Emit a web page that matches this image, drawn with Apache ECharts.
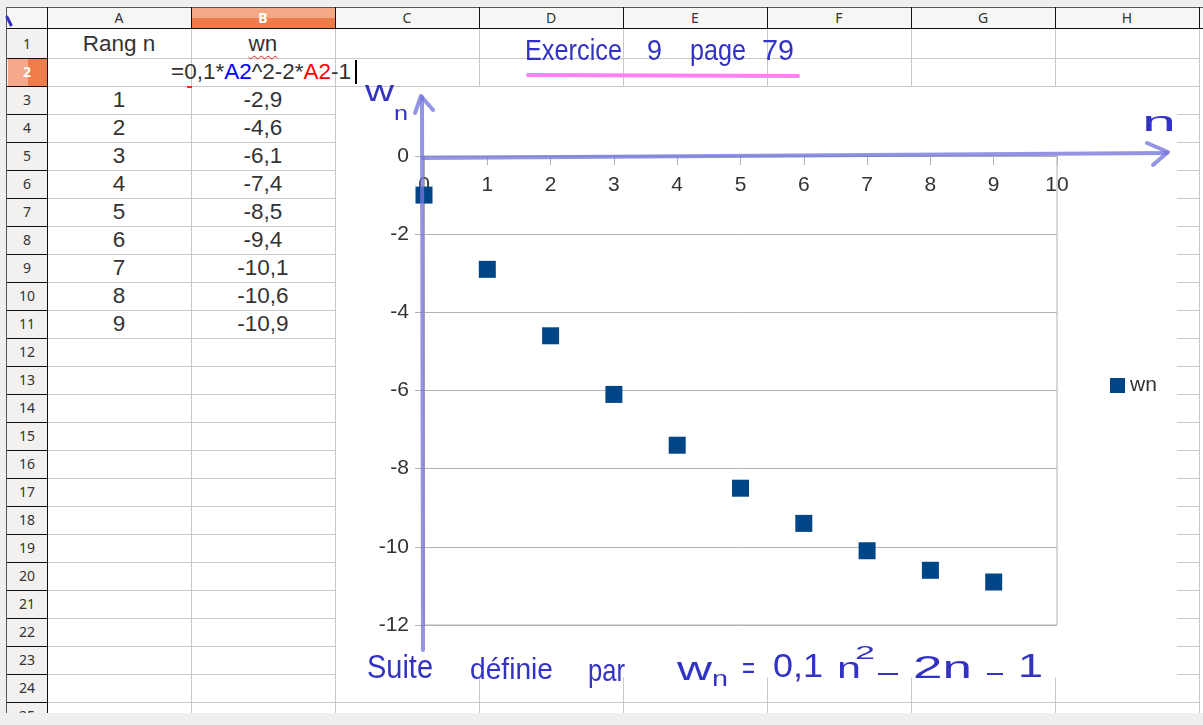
<!DOCTYPE html>
<html><head><meta charset="utf-8">
<script src="https://cdn.jsdelivr.net/npm/echarts@6/dist/echarts.min.js"></script>
<style>
html,body{margin:0;padding:0;}
body{width:1203px;height:725px;position:relative;overflow:hidden;background:#efefef;font-family:'Liberation Sans',Arial,sans-serif;}
#sheet{position:absolute;left:0;top:0;width:1203px;height:713px;overflow:hidden;}
#sheet div{position:absolute;box-sizing:border-box;}
.cell{font-size:22.5px;color:#333;text-align:center;white-space:nowrap;}
.hdr{font-family:'Noto Sans',sans-serif;font-size:14px;color:#333;text-align:center;white-space:nowrap;}
#chart{position:absolute;left:0;top:0;width:1203px;height:725px;}
</style></head>
<body>
<div id="sheet"></div>
<div id="chart"></div>
<script>
// ---------------- data ----------------
const nValues = [0, 1, 2, 3, 4, 5, 6, 7, 8, 9];
const wnValues = [-1, -2.9, -4.6, -6.1, -7.4, -8.5, -9.4, -10.1, -10.6, -10.9];
const seriesName = 'wn';
const columnLetters = ['A', 'B', 'C', 'D', 'E', 'F', 'G', 'H'];
const headerA = 'Rang n';
const headerB = 'wn';
const formulaParts = [['=0,1*', '#333'], ['A2', '#0000ff'], ['^2-2*', '#333'], ['A2', '#ff0000'], ['-1', '#333']];
const xMin = 0, xMax = 10, xStep = 1;
const yMin = -12, yMax = 0, yStep = 2;

// ---------------- spreadsheet backdrop ----------------
const sheet = document.getElementById('sheet');
function box(l, t, w, h, css, html) {
  const d = document.createElement('div');
  d.style.left = l + 'px'; d.style.top = t + 'px';
  d.style.width = w + 'px'; d.style.height = h + 'px';
  if (css) d.style.cssText += css;
  if (html !== undefined) d.innerHTML = html;
  sheet.appendChild(d);
  return d;
}
const colX = [47, 191, 335, 479, 623, 767, 911, 1055, 1199];
function rowTop(r) { return r === 1 ? 29 : 58 + (r - 2) * 28; }
function rowBottom(r) { return 58 + (r - 1) * 28; }

box(7, 7, 1196, 706, 'background:#ffffff;');
box(7, 7, 1196, 22, 'background:#f6f6f5;');
box(7, 29, 40, 690, 'background:#f2f1f0;');
// highlighted column B header & row 2 header
box(colX[1] + 1, 8, colX[2] - colX[1] - 1, 10, 'background:#f5a886;');
box(colX[1] + 1, 18, colX[2] - colX[1] - 1, 10, 'background:#ee7b48;');
box(8, rowTop(2) + 1, 20, 27, 'background:#f5a98a;');
box(28, rowTop(2) + 1, 19, 27, 'background:#ef7c4a;');
// grid lines
for (let r = 1; r <= 24; r++) box(47, rowBottom(r), 1152, 1, 'background:#c8c8c8;');
for (let i = 1; i < colX.length; i++) box(colX[i], 29, 1, 690, 'background:#c8c8c8;');
// header black lines
box(7, 7, 1196, 1, 'background:#555;');
box(7, 28, 1196, 1, 'background:#111;');
box(6, 7, 1, 706, 'background:#555;');
box(47, 7, 1, 706, 'background:#111;');
for (let i = 1; i < colX.length; i++) box(colX[i], 7, 1, 22, 'background:#111;');
for (let r = 1; r <= 24; r++) box(7, rowBottom(r), 40, 1, 'background:#111;');
// header labels
columnLetters.forEach((c, i) => {
  const l = colX[i], w = colX[i + 1] - colX[i];
  const sel = c === 'B';
  box(l, 7, w, 22, 'line-height:22px;' + (sel ? 'color:#fff;font-weight:bold;' : ''), c).className = 'hdr';
});
for (let r = 1; r <= 25; r++) {
  const t = rowTop(r), h = (r === 1 ? 29 : 28);
  const sel = r === 2;
  box(7, t, 40, h, 'line-height:' + h + 'px;' + (sel ? 'color:#fff;font-weight:bold;' : ''), String(r)).className = 'hdr';
}
// chart object white area
box(336, 87, 841, 590, 'background:#ffffff;');
// cell texts
function cellText(col, r, text, extra) {
  const t = rowTop(r), h = rowBottom(r) - t;
  const d = box(colX[col], t, colX[col + 1] - colX[col], h, 'line-height:' + h + 'px;' + (extra || ''), text);
  d.className = 'cell';
  return d;
}
cellText(0, 1, headerA);
cellText(1, 1, '<span style="text-decoration:underline wavy #e02020;text-decoration-thickness:1px;text-underline-offset:4px;">' + headerB + '</span>');
const f = cellText(1, 2, formulaParts.map(p => '<span style="color:' + p[1] + '">' + p[0] + '</span>').join(''), 'overflow:visible;');
f.style.left = '171px'; f.style.width = '200px'; f.style.textAlign = 'left';
box(355, 60, 2, 24, 'background:#000;');
box(187, 86, 5, 2, 'background:#ff2020;');
for (let i = 1; i < nValues.length; i++) {
  cellText(0, i + 2, String(nValues[i]));
  cellText(1, i + 2, String(wnValues[i]).replace('.', ','));
}

// ---------------- chart ----------------
const HW = '#3232c4';
const ARROW = 'rgba(118,118,222,0.78)';
const mctx = document.createElement('canvas').getContext('2d');
function hw(text, x0, x1, baseline, fs) {
  mctx.font = fs + 'px "Liberation Sans"';
  const w = mctx.measureText(text).width;
  return {
    type: 'text', x: x0, y: baseline - 0.35 * fs, z: 100,
    scaleX: (x1 - x0) / w,
    style: { text: text, fill: HW, fontSize: fs, fontFamily: 'Liberation Sans', align: 'left', verticalAlign: 'middle' }
  };
}
function stroke(points, color, width) {
  return { type: 'polyline', z: 100, shape: { points: points }, style: { stroke: color, lineWidth: width, fill: null, lineCap: 'round', lineJoin: 'round' } };
}

const chart = echarts.init(document.getElementById('chart'), null, { renderer: 'canvas' });
chart.setOption({
  animation: false,
  textStyle: { fontFamily: 'Liberation Sans' },
  grid: { left: 424, top: 156, width: 633, height: 469, show: true, borderColor: '#b3b3b3', borderWidth: 1, backgroundColor: 'transparent' },
  xAxis: {
    type: 'value', min: xMin, max: xMax, interval: xStep, position: 'top',
    axisLine: { onZero: false, lineStyle: { color: '#b3b3b3', width: 1 } },
    axisTick: { show: true, inside: true, length: 9, lineStyle: { color: '#b3b3b3' } },
    axisLabel: { inside: true, fontSize: 21, color: '#333', margin: 19, showMinLabel: true, showMaxLabel: true },
    splitLine: { show: false }
  },
  yAxis: {
    type: 'value', min: yMin, max: yMax, interval: yStep,
    axisLine: { show: true, lineStyle: { color: '#b3b3b3', width: 1 } },
    axisTick: { show: true, length: 9, lineStyle: { color: '#b3b3b3' } },
    axisLabel: { fontSize: 21, color: '#333', margin: 15, showMinLabel: true, showMaxLabel: true },
    splitLine: { show: true, lineStyle: { color: '#b3b3b3', width: 1 } }
  },
  legend: {
    left: 1110, top: 375, orient: 'vertical', icon: 'rect', itemWidth: 15, itemHeight: 15, itemGap: 5, padding: 0,
    textStyle: { fontSize: 21, color: '#333', fontFamily: 'Liberation Sans' },
    itemStyle: { opacity: 1 },
    data: [seriesName]
  },
  series: [{
    type: 'scatter', name: seriesName,
    data: nValues.map((v, i) => [v, wnValues[i]]),
    symbol: 'rect', symbolSize: 17,
    itemStyle: { color: '#004586', opacity: 1 }
  }],
  graphic: [
    // hand-drawn axes arrows
    stroke([[423, 650], [422, 97]], ARROW, 4),
    stroke([[415, 113], [421, 96], [433, 110]], ARROW, 4),
    stroke([[423, 158], [1167, 153]], ARROW, 4),
    stroke([[1147, 143], [1168, 152], [1153, 165]], ARROW, 4),
    // pink underline
    stroke([[528, 75], [798, 76]], '#ff80f4', 4),
    // stray mark top-left
    stroke([[7, 17], [11, 25]], HW, 3),
    // handwritten title
    hw('Exercice', 525, 622, 62, 30),
    hw('9', 647, 662, 62, 30),
    hw('page', 690, 746, 62, 30),
    hw('79', 762, 794, 62, 30),
    // axis names
    hw('w', 365, 394, 103, 30),
    hw('n', 394, 408, 121, 20),
    hw('n', 1142, 1176, 133, 28),
    // bottom caption
    hw('Suite', 367, 433, 681, 34),
    hw('définie', 470, 553, 681, 30),
    hw('par', 588, 625, 683, 32),
    hw('w', 677, 712, 683, 34),
    hw('n', 712, 728, 688, 22),
    hw('=', 742, 755, 680, 30),
    hw('0,1', 773, 823, 680, 34),
    hw('n', 837, 861, 680, 30),
    hw('2', 855, 875, 660, 18),
    hw('–', 878, 898, 684, 30),
    hw('2n', 913, 972, 680, 32),
    hw('–', 987, 1003, 684, 30),
    hw('1', 1018, 1043, 680, 34)
  ]
});
</script>
</body></html>
